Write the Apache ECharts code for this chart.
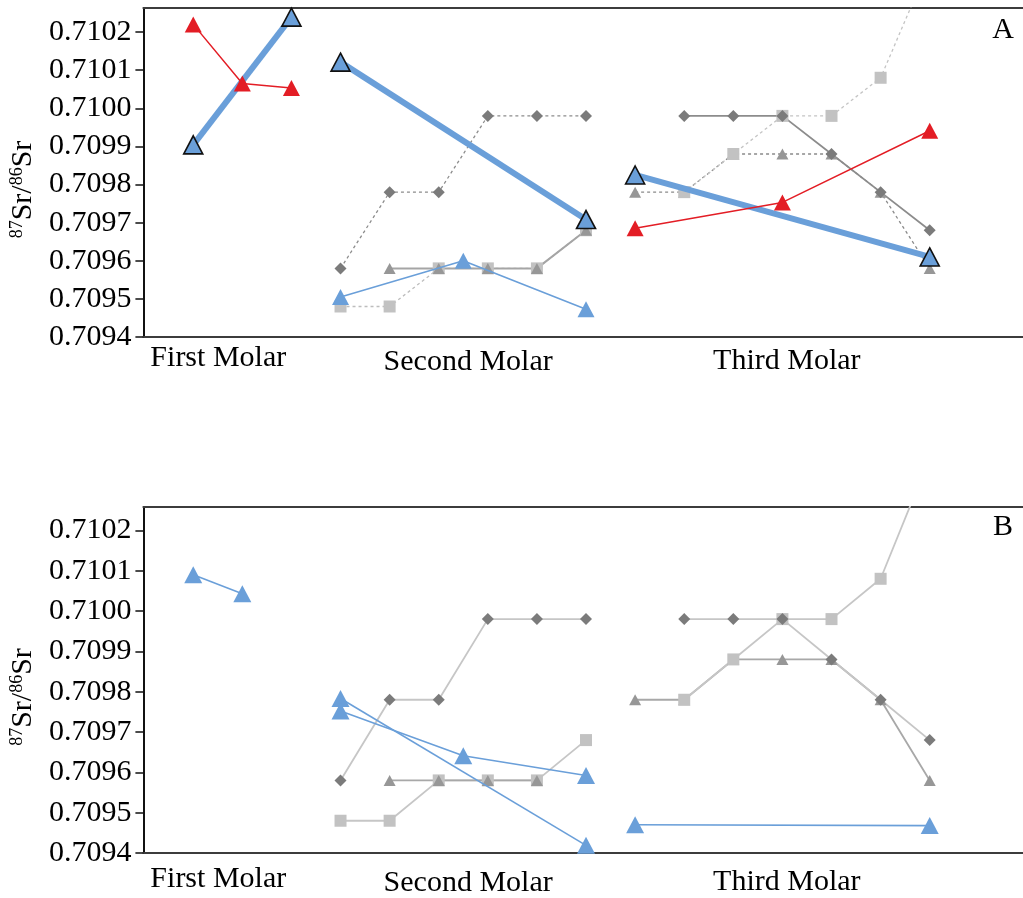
<!DOCTYPE html>
<html>
<head>
<meta charset="utf-8">
<script src="https://cdn.jsdelivr.net/npm/echarts@6/dist/echarts.min.js"></script>
<style>
  html, body { margin: 0; padding: 0; background: #ffffff; }
  #chart { width: 1023px; height: 898px; }
</style>
</head>
<body>
<div id="chart"></div>
<script>
// Sample slots along x: 0–2 first molar, 3–8 second molar, 9–15 third molar.
const molarNames = ['First Molar', 'Second Molar', 'Third Molar'];
const molarLabelSlots = [0.51, 5.6, 12.09];
const srTicks = [0.7094, 0.7095, 0.7096, 0.7097, 0.7098, 0.7099, 0.7100, 0.7101, 0.7102];
const panelLetters = ['A', 'B'];

// Reference individuals (grey), [slot, 87Sr/86Sr]
const refDiamondM2 = [[3, 0.70958], [4, 0.70978], [5, 0.70978], [6, 0.70998], [7, 0.70998], [8, 0.70998]];
const refSquareM2 = [[3, 0.70948], [4, 0.70948], [5, 0.70958], [6, 0.70958], [7, 0.70958], [8, 0.70968]];
const refTriangleM2A = [[4, 0.70958], [5, 0.70958], [6, 0.70958], [7, 0.70958], [8, 0.70968]];
const refTriangleM2B = [[4, 0.70958], [5, 0.70958], [6, 0.70958], [7, 0.70958]];
const refTriangleM3 = [[9, 0.70978], [10, 0.70978], [11, 0.70988], [12, 0.70988], [13, 0.70988], [14, 0.70978], [15, 0.70958]];
const refSquareM3 = [[10, 0.70978], [11, 0.70988], [12, 0.70998], [13, 0.70998], [14, 0.71008], [15, 0.71038]];
const refDiamondM3 = [[10, 0.70998], [11, 0.70998], [12, 0.70998], [13, 0.70988], [14, 0.70978], [15, 0.70968]];

// Panel A individuals
const aRedM1 = [[0, 0.71022], [1, 0.710065], [2, 0.710053]];
const aRedM3 = [[9, 0.709685], [12, 0.709753], [15, 0.709941]];
const aBoldM1 = [[0, 0.709904], [2, 0.710239]];
const aBoldM2 = [[3, 0.710121], [8, 0.709708]];
const aBoldM3 = [[9, 0.709825], [15, 0.70961]];
const aBlueM2 = [[3, 0.709505], [5.5, 0.7096], [8, 0.709473]];

// Panel B individuals
const bBlueM1 = [[0, 0.71009], [1, 0.710043]];
const bBlueM2a = [[3, 0.709783], [8, 0.709419]];
const bBlueM2b = [[3, 0.709752], [5.5, 0.709641], [8, 0.709592]];
const bBlueM3 = [[9, 0.70947], [15, 0.709468]];

const SERIF = '"Liberation Serif", "DejaVu Serif", serif';
const RED = '#e31d25';
const BLUE = '#6a9fd9';
const DARK = '#7b7b7b';
const MID = '#979797';
const LIGHT = '#c2c2c2';

const grids = [
  { left: 140, right: 0, top: 8, height: 329 },
  { left: 140, right: 0, top: 507, height: 347 }
];
const yMax = [0.710263, 0.710258];
const labelMargin = [6, 11];

function line(panel, data, o) {
  return {
    type: 'line',
    xAxisIndex: panel * 2,
    yAxisIndex: panel,
    data: data,
    symbol: o.symbol,
    symbolSize: o.size,
    showSymbol: true,
    silent: true,
    z: o.z || 2,
    itemStyle: Object.assign({ color: o.color }, o.item || {}),
    lineStyle: { color: o.lineColor || o.color, width: o.width || 1.6, type: o.dash ? [3, 3] : 'solid' }
  };
}

const BOLD_ITEM = { borderColor: '#111', borderWidth: 1.6 };
const series = [
  // Panel A — reference individuals
  line(0, refSquareM2, { symbol: 'rect', size: 12, color: LIGHT, lineColor: '#bdbdbd', dash: true, width: 1.3 }),
  line(0, refTriangleM2A, { symbol: 'triangle', size: [12, 11], color: MID, lineColor: '#a5a5a5', width: 2 }),
  line(0, refDiamondM2, { symbol: 'diamond', size: 12, color: DARK, lineColor: '#8c8c8c', dash: true, width: 1.3 }),
  line(0, refTriangleM3, { symbol: 'triangle', size: [12, 11], color: MID, lineColor: '#8a8a8a', dash: true, width: 1.3 }),
  line(0, refSquareM3, { symbol: 'rect', size: 12, color: LIGHT, lineColor: '#c4c4c4', dash: true, width: 1.3 }),
  line(0, refDiamondM3, { symbol: 'diamond', size: 12, color: DARK, lineColor: '#8c8c8c', width: 1.8 }),
  // Panel A — highlighted individuals
  line(0, aBoldM1, { symbol: 'triangle', size: [19, 18], color: BLUE, width: 6, z: 3, item: BOLD_ITEM }),
  line(0, aBoldM2, { symbol: 'triangle', size: [19, 18], color: BLUE, width: 6, z: 3, item: BOLD_ITEM }),
  line(0, aBoldM3, { symbol: 'triangle', size: [19, 18], color: BLUE, width: 6, z: 3, item: BOLD_ITEM }),
  line(0, aBlueM2, { symbol: 'triangle', size: [17, 16], color: BLUE, width: 1.6, z: 4 }),
  line(0, aRedM1, { symbol: 'triangle', size: [17, 16], color: RED, width: 1.5, z: 4 }),
  line(0, aRedM3, { symbol: 'triangle', size: [17, 16], color: RED, width: 1.5, z: 4 }),

  // Panel B — reference individuals
  line(1, refSquareM2, { symbol: 'rect', size: 12, color: LIGHT, lineColor: '#c6c6c6', width: 1.8 }),
  line(1, refTriangleM2B, { symbol: 'triangle', size: [12, 11], color: MID, lineColor: '#a8a8a8', width: 1.8 }),
  line(1, refDiamondM2, { symbol: 'diamond', size: 12, color: DARK, lineColor: '#c6c6c6', width: 1.8 }),
  line(1, refTriangleM3, { symbol: 'triangle', size: [12, 11], color: MID, lineColor: '#a8a8a8', width: 1.8 }),
  line(1, refSquareM3, { symbol: 'rect', size: 12, color: LIGHT, lineColor: '#c6c6c6', width: 1.8 }),
  line(1, refDiamondM3, { symbol: 'diamond', size: 12, color: DARK, lineColor: '#c6c6c6', width: 1.8 }),
  // Panel B — highlighted individuals
  line(1, bBlueM1, { symbol: 'triangle', size: [18, 17], color: BLUE, width: 1.6, z: 4 }),
  line(1, bBlueM2a, { symbol: 'triangle', size: [18, 17], color: BLUE, width: 1.6, z: 4 }),
  line(1, bBlueM2b, { symbol: 'triangle', size: [18, 17], color: BLUE, width: 1.6, z: 4 }),
  line(1, bBlueM3, { symbol: 'triangle', size: [18, 17], color: BLUE, width: 1.6, z: 4 })
];

const molarRich = {
  m0: { fontFamily: SERIF, fontSize: 30, color: '#000', padding: [0, 0, 0, 0] },
  m1: { fontFamily: SERIF, fontSize: 30, color: '#000', padding: [4, 0, 0, 0] },
  m2: { fontFamily: SERIF, fontSize: 30, color: '#000', padding: [3, 0, 0, 0] }
};

function nearestMolar(v) {
  let best = 0;
  molarLabelSlots.forEach((s, i) => { if (Math.abs(s - v) < Math.abs(molarLabelSlots[best] - v)) best = i; });
  return best;
}

const xAxes = [];
const yAxes = [];
grids.forEach((g, p) => {
  xAxes.push({
    type: 'value', gridIndex: p, min: -1.015, max: 16.9, position: 'bottom',
    splitLine: { show: false },
    axisLine: { show: true, onZero: false, lineStyle: { color: '#3c3c3c', width: 2 } },
    axisTick: { show: false },
    axisLabel: {
      show: true, margin: labelMargin[p],
      customValues: molarLabelSlots,
      formatter: (v) => { const i = nearestMolar(v); return '{m' + i + '|' + molarNames[i] + '}'; },
      rich: molarRich
    }
  });
  xAxes.push({
    type: 'value', gridIndex: p, min: -1.015, max: 16.9, position: 'top',
    splitLine: { show: false },
    axisLine: { show: true, onZero: false, lineStyle: { color: '#3c3c3c', width: 2 } },
    axisTick: { show: false },
    axisLabel: { show: false }
  });
  yAxes.push({
    type: 'value', gridIndex: p, min: 0.7094, max: yMax[p],
    splitLine: { show: false },
    axisLine: { show: true, onZero: false, lineStyle: { color: '#111', width: 2 } },
    axisTick: { show: true, length: 8, customValues: srTicks, lineStyle: { color: '#111', width: 1.5 } },
    axisLabel: {
      customValues: srTicks, margin: 12,
      fontFamily: SERIF, fontSize: 30, color: '#000',
      formatter: (v) => v.toFixed(4)
    },
    name: '{sup|87}{b|Sr/}{sup|86}{b|Sr}',
    nameLocation: 'middle',
    nameGap: 104,
    nameTextStyle: {
      padding: [0, 34, 0, 0],
      rich: {
        sup: { fontFamily: SERIF, fontSize: 18, color: '#000', verticalAlign: 'top', lineHeight: 30 },
        b: { fontFamily: SERIF, fontSize: 30, color: '#000', lineHeight: 30 }
      }
    }
  });
});

const chart = echarts.init(document.getElementById('chart'), null, { renderer: 'canvas' });
chart.setOption({
  backgroundColor: '#ffffff',
  animation: false,
  grid: grids,
  xAxis: xAxes,
  yAxis: yAxes,
  series: series,
  graphic: panelLetters.map((t, i) => ({
    type: 'text',
    x: 1003, y: i === 0 ? 30 : 527,
    style: { text: t, font: '30px ' + SERIF, fill: '#000', align: 'center', verticalAlign: 'middle' }
  }))
});
</script>
</body>
</html>
